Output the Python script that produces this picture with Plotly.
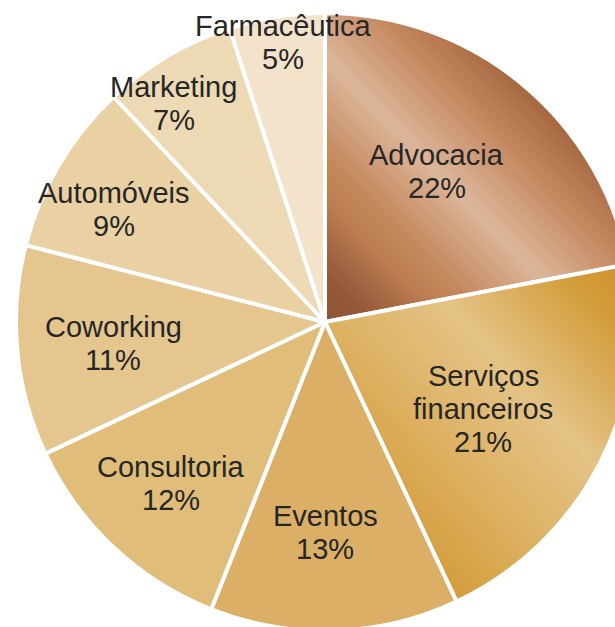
import math
import plotly.graph_objects as go

# ---- data ----
categories = ["Advocacia", "Serviços financeiros", "Eventos", "Consultoria",
              "Coworking", "Automóveis", "Marketing", "Farmacêutica"]
values = [22, 21, 13, 12, 11, 9, 7, 5]
label_lines = [["Advocacia"], ["Serviços", "financeiros"], ["Eventos"], ["Consultoria"],
               ["Coworking"], ["Automóveis"], ["Marketing"], ["Farmacêutica"]]

# ---- style ----
colors = ["#C4885F", "#DCAB55", "#DBB066", "#E0BD79",
          "#E4C68E", "#E9D1A3", "#EDDAB5", "#F2E3CA"]
label_radius = [0.607, 0.584, 0.68, 0.721, 0.689, 0.773, 0.861, 0.916]  # fraction of radius
label_angle_shift = [-3.0, 1.8, 1.8, 0.5, -0.3, -2.6, -4.0, 0.5]        # degrees from slice middle

W, H = 650, 650            # figure larger than window -> pie cropped right/bottom
CX, CY, R = 325, 322, 309  # pie centre / radius in pixels
LINE_H = 33
FONT = "Liberation Sans, Arial, Helvetica, sans-serif"

fig = go.Figure(go.Pie(
    labels=categories,
    values=values,
    sort=False,
    direction="clockwise",
    rotation=0,
    textinfo="none",
    hoverinfo="label+percent",
    marker=dict(colors=colors, line=dict(color="white", width=4)),
    domain=dict(x=[(CX - R) / W, (CX + R) / W], y=[1 - (CY + R) / H, 1 - (CY - R) / H]),
    showlegend=False,
))

total = sum(values)
cum = 0
annotations = []
for name_lines, v, rf, dth in zip(label_lines, values, label_radius, label_angle_shift):
    mid = (cum + v / 2) / total
    cum += v
    th = 2 * math.pi * mid + math.radians(dth)
    px = CX + rf * R * math.sin(th)
    py = CY - rf * R * math.cos(th)
    lines = name_lines + [f"{round(v * 100 / total)}%"]
    n = len(lines)
    for i, t in enumerate(lines):
        annotations.append(dict(
            x=px / W, y=1 - py / H, xref="paper", yref="paper",
            text=t, showarrow=False, xanchor="center", yanchor="middle",
            yshift=-(i - (n - 1) / 2) * LINE_H,
            font=dict(family=FONT, size=29, color="#262626"),
        ))

fig.update_layout(
    width=W, height=H,
    margin=dict(l=0, r=0, t=0, b=0),
    paper_bgcolor="white", plot_bgcolor="white",
    annotations=annotations,
)

post = """
document.body.style.margin='0';
document.body.style.overflow='hidden';
var gd = document.getElementById('{plot_id}');
var svg = gd.querySelector('svg.main-svg');
var ns = 'http://www.w3.org/2000/svg';
var defs = svg.querySelector('defs') || svg.insertBefore(document.createElementNS(ns,'defs'), svg.firstChild);
function grad(id, x1, y1, x2, y2, stops){
  var g = document.createElementNS(ns,'linearGradient');
  g.setAttribute('id', id);
  g.setAttribute('x1', x1); g.setAttribute('y1', y1);
  g.setAttribute('x2', x2); g.setAttribute('y2', y2);
  stops.forEach(function(s){
    var st = document.createElementNS(ns,'stop');
    st.setAttribute('offset', s[0]); st.setAttribute('stop-color', s[1]);
    g.appendChild(st);
  });
  defs.appendChild(g);
}
grad('gradAdv', 0, 1, 1, 0, [[0,'#8F5533'],[0.08,'#95593A'],[0.2,'#BC7C50'],[0.28,'#C68A60'],
  [0.43,'#DCB69A'],[0.58,'#C68A62'],[0.7,'#A86A42'],[0.85,'#B87A52'],[1,'#C69070']]);
grad('gradFin', 1, 0, 0, 1, [[0,'#CE912B'],[0.12,'#D39C3A'],[0.36,'#E4C386'],
  [0.6,'#DCAF5E'],[0.8,'#D39B3A'],[1,'#D29A38']]);
var paths = gd.querySelectorAll('g.slice path.surface');
if (paths.length > 1) {
  paths[0].style.fill = 'url(#gradAdv)';
  paths[1].style.fill = 'url(#gradFin)';
}
"""

fig.write_html("out.html", config={"displayModeBar": False}, post_script=post)
